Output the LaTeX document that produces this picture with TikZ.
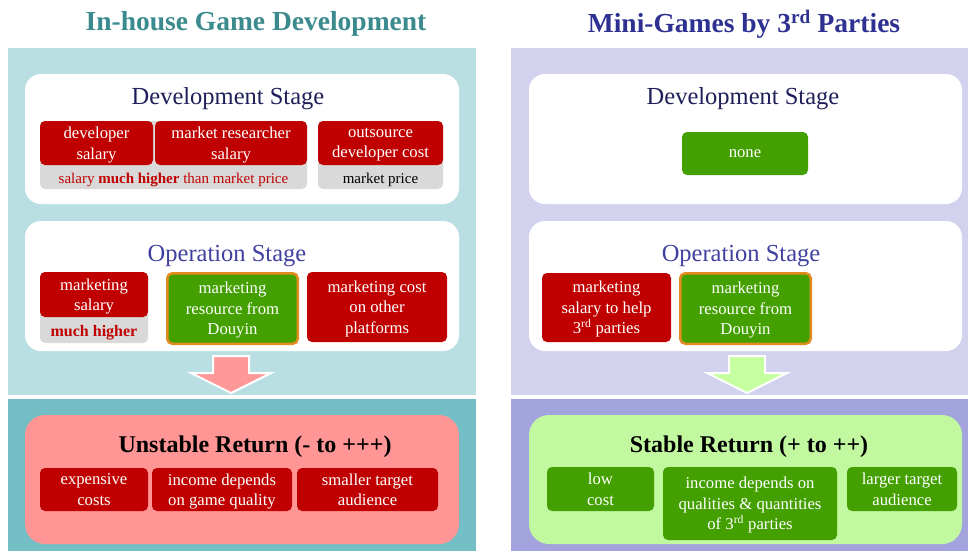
\documentclass[tikz,border=0pt]{standalone}
\usepackage{fontspec}
\setmainfont{Liberation Serif}
\definecolor{teallight}{HTML}{BADFE3}
\definecolor{tealdark}{HTML}{74BFC5}
\definecolor{lavlight}{HTML}{D2D2EF}
\definecolor{lavdark}{HTML}{A3A3DD}
\definecolor{costred}{HTML}{C00000}
\definecolor{gaingreen}{HTML}{43A000}
\definecolor{douyinorange}{HTML}{E38B1F}
\definecolor{notegrey}{HTML}{D9D9D9}
\definecolor{returnpink}{HTML}{FF9595}
\definecolor{returnmint}{HTML}{C2F8A0}
\definecolor{arrowpink}{HTML}{FF9999}
\definecolor{arrowmint}{HTML}{C6FFA0}
\definecolor{titleteal}{HTML}{3A8A8E}
\definecolor{titlenavy}{HTML}{2E3192}
\definecolor{devnavy}{HTML}{1F1F5A}
\definecolor{opblue}{HTML}{4040A0}
\tikzset{
    size/.style 2 args={minimum width=#1,minimum height=#2},
    flow/.style={
        x=1pt,y=-1pt,
        box/.append style={rectangle,rounded corners=5pt,inner sep=0pt,align=center,text=white,
            font=\fontsize{16.7}{20.5}\selectfont,text depth=-2pt},
        cost/.append style={box,fill=costred},
        gain/.append style={box,fill=gaingreen},
        douyin/.append style={gain,draw=douyinorange,line width=2.5pt},
        notebar/.append style={rectangle,rounded corners=5pt,fill=notegrey,inner sep=0pt},
        txt/.append style={inner sep=0pt,yshift=-3pt},
        note/.append style={txt,font=\fontsize{15}{18}\selectfont},
        stagebox/.append style={rectangle,rounded corners=16pt,fill=white,inner sep=0pt},
        returnbox/.append style={rectangle,rounded corners=20pt,inner sep=0pt},
        stagename/.append style={txt,font=\fontsize{24.5}{28}\selectfont},
        returnname/.append style={txt,font=\bfseries\fontsize{24}{28}\selectfont},
        title/.append style={txt,font=\bfseries\fontsize{27.5}{32}\selectfont}
    }
}

\begin{document}
\begin{tikzpicture}[flow]
    \useasboundingbox (0,0) rectangle (968,551);

    % panels
    \fill[teallight] (8,48) rectangle (476,395);
    \fill[tealdark] (8,399) rectangle (476,551);
    \fill[lavlight] (511,48) rectangle (968,395);
    \fill[lavdark] (511,399) rectangle (968,551);

    \node[title,text=titleteal] (tin) at (256,21) {In-house Game Development};
    \node[title,text=titlenavy] (tmini) at (744,21) {Mini-Games by 3\textsuperscript{rd} Parties};

    % in-house: development stage
    \node[stagebox,size={434}{130}] (ldev) at (242,139) {};
    \node[stagename,text=devnavy] (ldevt) at (228,96) {Development Stage};
    \node[notebar,size={267}{68}] (lsalbar) at (173.5,155) {};
    \node[notebar,size={125}{68}] (loutbar) at (380.5,155) {};
    \node[cost,size={113}{44}] (ldevsal) at (96.5,143) {developer\\salary};
    \node[cost,size={152}{44}] (lmrsal) at (231,143) {market researcher\\salary};
    \node[cost,size={125}{44}] (lout) at (380.5,143) {outsource\\developer cost};
    \node[note,text=costred] (lsalnote) at (173.5,177) {salary \textbf{much higher} than market price};
    \node[note] (loutnote) at (380.5,177) {market price};

    % in-house: operation stage
    \node[stagebox,size={434}{130}] (lop) at (242,286) {};
    \node[stagename,text=opblue] (lopt) at (227,253) {Operation Stage};
    \node[notebar,size={108}{71}] (lmkbar) at (94,307.5) {};
    \node[cost,size={108}{45}] (lmksal) at (94,294.5) {marketing\\salary};
    \node[note,text=costred,font=\bfseries\fontsize{16}{18}\selectfont] (lmknote) at (94,330) {much higher};
    \node[douyin,size={130.5}{70.5}] (ldouyin) at (232.5,308.5) {marketing\\resource from\\Douyin};
    \node[cost,size={140}{70}] (lother) at (377,307) {marketing cost\\on other\\platforms};

    % in-house: return
    \node[returnbox,fill=returnpink,size={434}{129}] (lret) at (242,479.5) {};
    \node[returnname] (lrett) at (255,444) {Unstable Return (- to +++)};
    \node[cost,size={108}{43}] (lexp) at (94,489.5) {expensive\\costs};
    \node[cost,size={140}{43}] (linc) at (222,489.5) {income depends\\on game quality};
    \node[cost,size={141}{43}] (lsmall) at (367.5,489.5) {smaller target\\audience};

    % mini-games: development stage
    \node[stagebox,size={433}{130}] (rdev) at (745.5,139) {};
    \node[stagename,text=devnavy] (rdevt) at (743,96) {Development Stage};
    \node[gain,size={126}{43},text depth=-4pt] (rnone) at (745,153.5) {none};

    % mini-games: operation stage
    \node[stagebox,size={433}{130}] (rop) at (745.5,286) {};
    \node[stagename,text=opblue] (ropt) at (741,253) {Operation Stage};
    \node[cost,size={129}{69}] (rmkhelp) at (606.5,307.5) {marketing\\salary to help\\3\textsuperscript{rd} parties};
    \node[douyin,size={130.5}{70.5}] (rdouyin) at (745.5,308.5) {marketing\\resource from\\Douyin};

    % mini-games: return
    \node[returnbox,fill=returnmint,size={433}{129}] (rret) at (745.5,479.5) {};
    \node[returnname] (rrett) at (749,444) {Stable Return (+ to ++)};
    \node[gain,size={107}{44}] (rlow) at (600.5,489) {low\\cost};
    \node[gain,size={174}{73}] (rinc) at (750,503.5) {income depends on\\qualities \& quantities\\of 3\textsuperscript{rd} parties};
    \node[gain,size={110}{44}] (rlarge) at (902,489) {larger target\\audience};

    % down arrows into the returns
    \foreach \cx/\col in {231/arrowpink,747/arrowmint}
        \filldraw[fill=\col,draw=white,line width=2pt,line join=miter]
            (\cx-18,356) -- (\cx+18,356) -- (\cx+18,373) -- (\cx+40,373)
            -- (\cx,393) -- (\cx-40,373) -- (\cx-18,373) -- cycle;
\end{tikzpicture}
\end{document}
